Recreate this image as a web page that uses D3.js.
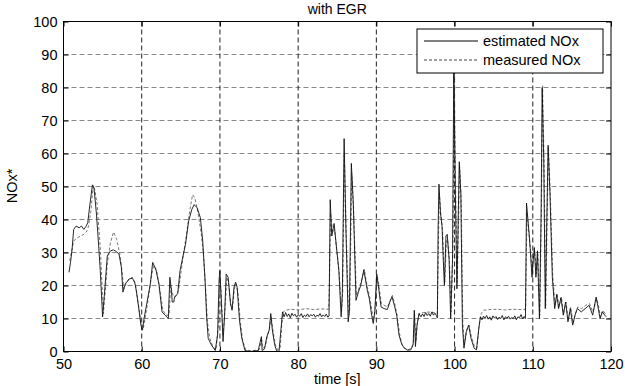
<!DOCTYPE html>
<html>
<head>
<meta charset="utf-8">
<script src="https://cdn.jsdelivr.net/npm/d3@7"></script>
<style>
body { margin: 0; background: #fff; }
svg { font-family: "Liberation Sans", Arial, sans-serif; }
</style>
</head>
<body>
<svg width="625" height="386"></svg>
<script>
// estimated NOx (solid) : time [s], value
var estT = [50.7,50.9,51.1,51.3,51.6,52.0,52.3,52.6,52.9,53.1,53.4,53.7,53.9,54.2,54.5,54.7,55.0,55.3,55.6,56.0,
  56.4,56.8,57.1,57.4,57.6,57.9,58.4,58.8,59.1,59.3,59.6,59.9,60.1,60.3,60.8,61.1,61.4,61.8,62.2,62.6,
  63.0,63.4,63.6,63.8,63.9,64.1,64.2,64.6,64.9,65.2,65.6,66.0,66.4,66.7,66.9,67.1,67.5,67.8,68.1,68.3,
  68.5,68.9,69.4,69.7,69.9,70.0,70.2,70.4,70.6,70.8,71.05,71.35,71.55,71.8,72.0,72.2,72.5,72.8,73.2,73.9,
  74.9,75.3,75.4,75.7,76.0,76.3,76.5,76.7,77.0,77.25,77.55,77.8,78.0,
  78.2,78.4,78.6,78.8,79.0,79.2,79.4,79.6,79.8,80.0,80.2,80.4,80.6,80.8,81.0,81.2,81.4,81.6,81.8,82.0,
  82.2,82.4,82.6,82.8,83.0,83.2,83.4,83.6,83.8,83.95,
  84.1,84.3,84.6,84.9,85.2,85.5,85.65,85.88,86.1,86.4,86.55,86.8,87.05,87.4,87.7,88.0,88.4,88.8,89.1,89.4,
  89.6,89.8,90.05,90.3,90.6,91.0,91.4,91.8,92.0,92.3,92.6,92.9,93.2,93.5,94.0,94.4,94.7,94.85,95.0,95.2,
  95.45,95.7,95.9,96.1,96.3,96.5,96.7,96.9,97.1,97.3,97.5,97.7,97.8,
  97.9,98.0,98.2,98.4,98.55,98.7,98.9,99.06,99.3,99.5,99.74,99.9,100.1,100.3,100.6,100.8,101.0,101.2,101.5,101.8,
  102.1,102.5,102.8,103.1,103.3,
  103.5,103.7,103.9,104.1,104.3,104.5,104.7,104.9,105.1,105.3,105.5,105.7,105.9,106.1,106.3,106.5,106.7,106.9,107.1,107.3,
  107.5,107.7,107.9,108.1,108.3,108.5,108.7,108.9,
  109.06,109.2,109.5,109.66,109.9,110.0,110.2,110.4,110.6,110.85,111.06,111.2,111.4,111.6,111.8,111.96,112.2,112.5,112.8,113.06,
  113.3,113.6,113.9,114.2,114.5,114.8,115.1,115.4,115.7,116.2,116.7,117.2,117.66,118.1,118.3,118.6,118.9,119.2,119.4];
var estV = [24,27,31,37,38,37.5,38,37,38,39,45,50.5,49.5,42,32,24.5,10.5,19.5,29,30.5,
  30.8,30.2,29.5,25.5,18,20.5,22,22.2,21,18.5,13.5,8,6.5,10,16.5,20.5,27,25,20.5,12,
  11,10,22.5,18.5,15,15,16.5,17.5,24.5,28,32.5,39.5,43,44.5,44,43.5,40.5,33.5,21.5,10.5,
  4,2,0.3,5,22,24.5,14,3,11,23.5,22.5,14.5,12.5,19.5,21,19.5,9.5,4,0.3,0,
  0.3,4.5,0.3,0.8,4.5,6.5,11.5,6.5,2,0.2,0,6.5,12,
  10.5,11.8,10.6,11.4,10.2,11.6,10.8,11.3,10.4,11.1,10.7,11.5,10.3,11.0,10.6,11.4,10.5,11.2,10.8,11.3,
  10.4,11.0,10.7,11.5,10.5,11.1,10.6,11.3,10.4,10.8,
  46,35,38.8,31.7,24.6,10.5,17.5,64.5,38,9,12,57,45,15.5,18,20,24.7,19,16,11,
  8.5,12,23.5,19,13.5,13,12.7,15.5,16.6,14,11,5,2.5,1.2,0.4,0.5,2,12.5,1.5,8,
  11.5,10.5,11.4,10.6,11.8,10.9,11.5,10.7,12.0,11.0,11.6,10.8,10.2,
  38,50.7,42,38,28,20,35,35.5,28,10,28,86,48,19,57.5,48,8,1,6,8,
  4,1,0.5,7,10.5,
  9.6,10.7,10.0,10.9,9.8,10.5,9.5,10.8,10.1,10.6,9.7,10.4,10.0,10.9,9.6,10.5,10.1,10.7,9.8,10.3,
  10.0,10.8,9.6,10.5,10.2,11.2,9.9,10.6,
  10,45,36.5,31.5,22.5,26.5,31.5,22.5,30.5,10,40.5,80,58,13,40.5,62.5,47.5,22.5,13,17.3,
  13,16.3,11,15,9,13,8,11,13,12,13,14,11,16.5,14,10,12,11,10.5];

// measured NOx (dashed)
var measT = [50.8,51.0,51.3,51.8,52.2,52.6,53.0,53.2,53.5,53.8,54.0,54.3,54.7,55.1,55.4,55.6,56.0,56.4,56.8,57.2,
  57.5,57.7,58.0,58.4,58.8,59.2,59.5,59.9,60.2,60.5,60.9,61.2,61.5,61.9,62.3,62.7,63.1,63.5,63.7,64.0,
  64.3,64.7,65.0,65.3,65.7,66.1,66.5,66.8,67.2,67.6,67.9,68.2,68.4,68.7,69.1,69.5,69.8,70.0,70.15,70.4,
  70.65,70.9,71.1,71.4,71.6,71.85,72.05,72.3,72.6,72.9,73.3,74.0,75.0,75.35,75.5,75.8,76.1,76.35,76.55,76.8,
  77.1,77.4,77.7,77.9,78.1,78.4,79.0,80.0,81.0,82.0,83.0,83.9,84.0,84.15,84.4,84.65,84.95,85.25,85.55,85.7,
  85.9,86.15,86.45,86.6,86.85,87.1,87.45,87.75,88.05,88.45,88.85,89.15,89.45,89.65,89.85,90.1,90.35,90.65,91.0,91.4,
  91.8,92.05,92.35,92.65,92.95,93.3,93.6,94.0,94.5,94.75,94.9,95.05,95.25,95.5,96.0,97.0,97.8,97.95,98.05,98.25,
  98.45,98.6,98.75,98.95,99.1,99.35,99.55,99.78,99.95,100.15,100.35,100.65,100.85,101.05,101.25,101.55,101.85,102.15,102.55,102.85,
  103.15,103.4,103.7,104.5,105.5,106.5,107.5,108.5,109.0,109.1,109.25,109.55,109.7,109.95,110.05,110.25,110.45,110.65,110.9,111.1,
  111.25,111.45,111.65,111.85,112.0,112.25,112.55,112.85,113.1,113.35,113.65,113.95,114.25,114.55,114.85,115.15,115.45,115.75,116.25,116.75,
  117.25,117.7,118.15,118.35,118.65,118.95,119.25,119.45];
var measV = [27.5,30,33.5,34.5,35,35.5,36.5,38,42.5,50.3,49,44.5,31.5,11.5,20,26.5,33,36.2,34,29.5,
  24,19,20.5,22,22.5,20.5,15.5,9,7,11,17,22,26,24.5,19,12.5,11,11,20,17,
  16.5,18.5,23.5,29,35,42,47.5,46.5,42,36,29,18,9,4,1.5,0.5,8,22,18,5,
  13,22.5,21,14,13,19,20.5,18,9,3.5,0.5,0.2,0.5,3.5,1,1.5,5,7,10.5,6,
  2,0.5,1,8,12,12.5,12.8,12.6,13,12.7,12.9,12.8,20,42,36,37,30,24,12,18,
  60,36,11,13,54,42,17,19,21,25,19.5,16.5,12,9.5,13,23,19.5,14.5,14,13.5,
  15.5,17,14.5,11,5.5,2,1,0.5,1,3,11,3,8.5,11.5,11.8,12,11.5,35,48,41,
  37,29,21,33,34,27,12,30,84,47,21,56,46,9,2,6.5,8,4.5,1.5,1,
  8,11.5,12.5,12.7,12.8,12.6,12.8,12.7,12.7,14,42,35,31,23.5,27,30.5,23.5,29.5,11,42,
  80.5,57,14,42,62,47,23,14,17.5,13.5,16.5,11.5,15,9.5,13.5,8.5,11.5,13.5,13,14,
  14.5,12,16,14.5,10.5,12.5,11.5,11];

var xTicks = [50,60,70,80,90,100,110,120];
var yTicks = [0,10,20,30,40,50,60,70,80,90,100];
var seriesNames = ["estimated NOx", "measured NOx"];

var svg = d3.select("svg"),
    plotL = 63.5, plotR = 611, plotT = 21.5, plotB = 351.5;

var x = d3.scaleLinear().domain([50,120]).range([plotL, plotR]);
var y = d3.scaleLinear().domain([0,100]).range([plotB, plotT]);

// grid
svg.append("g").selectAll("line")
  .data(yTicks).enter().append("line")
  .attr("x1", plotL).attr("x2", plotR)
  .attr("y1", function(d) { return y(d); }).attr("y2", function(d) { return y(d); })
  .attr("stroke", "#888").attr("stroke-dasharray", "5,3");

svg.append("g").selectAll("line")
  .data(xTicks.slice(1, -1)).enter().append("line")
  .attr("y1", plotT).attr("y2", plotB)
  .attr("x1", function(d) { return x(d); }).attr("x2", function(d) { return x(d); })
  .attr("stroke", "#222").attr("stroke-dasharray", "5,3");

// axes, ticks inward
function styleAxis(g) {
  g.select(".domain").remove();
  g.selectAll("text").attr("font-size", 14.5).attr("fill", "#000")
    .attr("font-family", "Liberation Sans, Arial, sans-serif");
}
svg.append("g").attr("transform", "translate(0," + plotB + ")")
  .call(d3.axisBottom(x).tickValues(xTicks).tickSize(-5).tickPadding(7).tickFormat(d3.format("d")))
  .call(styleAxis);
svg.append("g").attr("transform", "translate(" + plotL + ",0)")
  .call(d3.axisLeft(y).tickValues(yTicks).tickSize(-5).tickPadding(6).tickFormat(d3.format("d")))
  .call(styleAxis);
svg.append("g").attr("transform", "translate(0," + plotT + ")")
  .call(d3.axisTop(x).tickValues(xTicks).tickSize(-5).tickFormat(""))
  .call(styleAxis);
svg.append("g").attr("transform", "translate(" + plotR + ",0)")
  .call(d3.axisRight(y).tickValues(yTicks).tickSize(-5).tickFormat(""))
  .call(styleAxis);

// series
var line = d3.line()
  .x(function(d) { return x(d[0]); })
  .y(function(d) { return y(d[1]); });

svg.append("path")
  .datum(d3.zip(measT, measV))
  .attr("d", line).attr("fill", "none")
  .attr("stroke", "#666").attr("stroke-width", 0.9).attr("stroke-dasharray", "3,2");

svg.append("path")
  .datum(d3.zip(estT, estV))
  .attr("d", line).attr("fill", "none")
  .attr("stroke", "#111").attr("stroke-width", 0.9);

// frame
svg.append("rect")
  .attr("x", plotL).attr("y", plotT)
  .attr("width", plotR - plotL).attr("height", plotB - plotT)
  .attr("fill", "none").attr("stroke", "#000");

// titles
svg.append("text").attr("x", (plotL + plotR) / 2).attr("y", 14)
  .attr("text-anchor", "middle").attr("font-size", 14).text("with EGR");
svg.append("text").attr("x", (plotL + plotR) / 2).attr("y", 384)
  .attr("text-anchor", "middle").attr("font-size", 14.5).text("time [s]");
svg.append("text").attr("transform", "translate(17,186) rotate(-90)")
  .attr("text-anchor", "middle").attr("font-size", 14.5).text("NOx*");

// legend
var lg = svg.append("g").attr("transform", "translate(417,29)");
lg.append("rect").attr("width", 186).attr("height", 44)
  .attr("fill", "#fff").attr("stroke", "#000");
lg.selectAll(".item").data(seriesNames).enter().append("g")
  .attr("transform", function(d, i) { return "translate(0," + (12 + i * 19) + ")"; })
  .each(function(d, i) {
    var g = d3.select(this);
    g.append("line").attr("x1", 7).attr("x2", 61).attr("y1", 0).attr("y2", 0)
      .attr("stroke", i ? "#444" : "#000").attr("stroke-dasharray", i ? "3,2" : null);
    g.append("text").attr("x", 66).attr("y", 5).attr("font-size", 14.5).text(d);
  });
</script>
</body>
</html>
